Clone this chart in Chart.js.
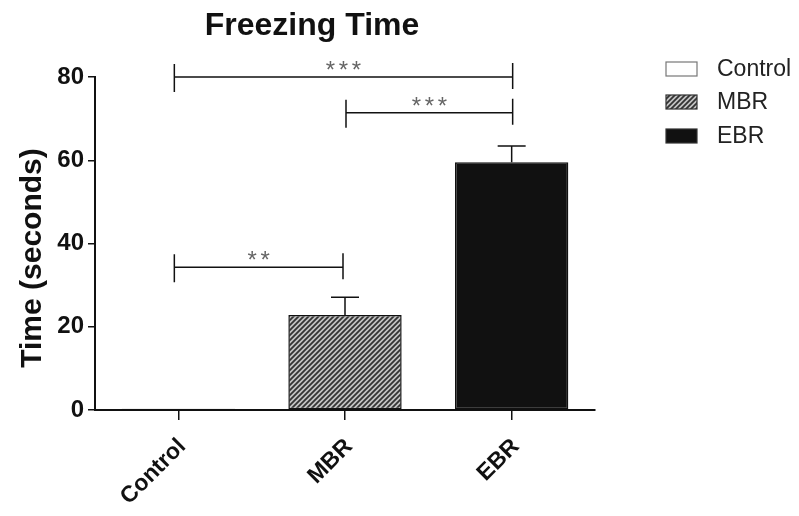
<!DOCTYPE html>
<html>
<head>
<meta charset="utf-8">
<script src="https://cdn.jsdelivr.net/npm/chart.js@4/dist/chart.umd.min.js"></script>
<style>
html,body{margin:0;padding:0;background:#fff;}
canvas{display:block;}
</style>
</head>
<body>
<canvas id="c" width="799" height="516"></canvas>
<script>
// ---- data ----
const categories = ["Control", "MBR", "EBR"];
const meanTime = [0.3, 22.8, 59.5];
const errorUpper = [0, 4.3, 3.9];
const yTicks = [0, 20, 40, 60, 80];
// significance brackets
const bracketFrom = [0, 1, 0];
const bracketTo = [2, 2, 1];
const bracketY = [80, 71.4, 34.3];
const bracketStars = [3, 3, 2];
const chartTitle = "Freezing Time";
const yAxisTitle = "Time (seconds)";

// ---- hatch pattern for MBR ----
function makeHatch() {
  const s = 5;
  const p = document.createElement('canvas');
  p.width = s; p.height = s;
  const g = p.getContext('2d');
  g.fillStyle = '#c4c4c4';
  g.fillRect(0, 0, s, s);
  g.strokeStyle = '#333';
  g.lineWidth = 1.8;
  g.beginPath();
  g.moveTo(-1, s + 1); g.lineTo(s + 1, -1);
  g.moveTo(-1, 1); g.lineTo(1, -1);
  g.moveTo(s - 1, s + 1); g.lineTo(s + 1, s - 1);
  g.stroke();
  return document.getElementById('c').getContext('2d').createPattern(p, 'repeat');
}
const hatch = makeHatch();
const fills = ['#ffffff', hatch, '#111111'];

const FONT = "'Liberation Sans', Arial, sans-serif";

const overlay = {
  id: 'overlay',
  afterDatasetsDraw(chart) {
    const ctx = chart.ctx;
    const x = chart.scales.x, y = chart.scales.y;
    const meta = chart.getDatasetMeta(0);
    ctx.save();
    // error bars
    ctx.strokeStyle = '#111';
    ctx.lineWidth = 1.5;
    meta.data.forEach((bar, i) => {
      if (!errorUpper[i]) return;
      const cx = bar.x;
      const yTop = y.getPixelForValue(meanTime[i] + errorUpper[i]);
      const yBar = y.getPixelForValue(meanTime[i]);
      ctx.beginPath();
      ctx.moveTo(cx, yBar); ctx.lineTo(cx, yTop);
      ctx.moveTo(cx - 14, yTop); ctx.lineTo(cx + 14, yTop);
      ctx.stroke();
    });
    // brackets
    for (let k = 0; k < bracketFrom.length; k++) {
      const x1 = x.getPixelForValue(bracketFrom[k]) + (bracketFrom[k] === 0 ? -4 : 1);
      const x2 = x.getPixelForValue(bracketTo[k]) + (bracketTo[k] === 2 ? 1 : -2);
      const yy = y.getPixelForValue(bracketY[k]);
      ctx.strokeStyle = '#111';
      ctx.lineWidth = 1.5;
      ctx.beginPath();
      ctx.moveTo(x1, yy); ctx.lineTo(x2, yy);
      ctx.moveTo(x1, yy - 13); ctx.lineTo(x1, yy + 15);
      ctx.moveTo(x2, yy - 14); ctx.lineTo(x2, yy + 12);
      ctx.stroke();
      ctx.fillStyle = '#666';
      ctx.font = "24px " + FONT;
      ctx.textAlign = 'center';
      ctx.textBaseline = 'alphabetic';
      const n = bracketStars[k], gap = 13;
      const mid = (x1 + x2) / 2;
      for (let j = 0; j < n; j++) {
        ctx.fillText('*', mid + (j - (n - 1) / 2) * gap, yy + 1);
      }
    }
    // x labels (rotated)
    ctx.fillStyle = '#111';
    ctx.font = "bold 23px " + FONT;
    ctx.textAlign = 'right';
    ctx.textBaseline = 'middle';
    categories.forEach((c, i) => {
      const tx = x.getPixelForValue(i) + 4;
      const ty = chart.chartArea.bottom + 33;
      ctx.save();
      ctx.translate(tx, ty);
      ctx.rotate(-Math.PI / 4);
      ctx.fillText(c, 0, 0);
      ctx.restore();
    });
    // y axis title
    ctx.save();
    ctx.translate(33, 258);
    ctx.rotate(-Math.PI / 2);
    ctx.font = "bold 30px " + FONT;
    ctx.textAlign = 'center';
    ctx.textBaseline = 'middle';
    ctx.fillText(yAxisTitle, 0, 0);
    ctx.restore();
    // title
    ctx.fillStyle = '#111';
    ctx.font = "bold 32px " + FONT;
    ctx.textAlign = 'center';
    ctx.textBaseline = 'middle';
    ctx.fillText(chartTitle, 312, 26);
    // legend
    const legY = [69, 102, 136];
    ctx.font = "23px " + FONT;
    ctx.textAlign = 'left';
    categories.forEach((c, i) => {
      ctx.fillStyle = fills[i];
      ctx.fillRect(666, legY[i] - 7, 31, 14);
      ctx.strokeStyle = i === 0 ? '#777' : '#333';
      ctx.lineWidth = 1.2;
      ctx.strokeRect(666, legY[i] - 7, 31, 14);
      ctx.fillStyle = '#222';
      ctx.fillText(c, 717, legY[i] + 1);
    });
    ctx.restore();
  }
};

new Chart(document.getElementById('c'), {
  type: 'bar',
  data: {
    labels: categories,
    datasets: [{
      data: meanTime,
      backgroundColor: fills,
      borderColor: '#111',
      borderWidth: 1.5,
      borderSkipped: false,
      categoryPercentage: 1.0,
      barPercentage: 0.68
    }]
  },
  options: {
    responsive: false,
    animation: false,
    layout: { padding: { left: 0, top: 77, right: 204, bottom: 0 } },
    plugins: { legend: { display: false }, title: { display: false }, tooltip: { enabled: false } },
    scales: {
      x: {
        afterFit(s) { s.height = 106; },
        grid: { display: true, drawOnChartArea: false, drawTicks: true, tickLength: 10, color: '#111', lineWidth: 1.5, offset: false },
        border: { display: true, color: '#111', width: 2 },
        ticks: { display: false }
      },
      y: {
        min: 0, max: 80,
        afterFit(s) { s.width = 95; },
        afterBuildTicks(s) { s.ticks = yTicks.map(v => ({ value: v })); },
        grid: { display: true, drawOnChartArea: false, drawTicks: true, tickLength: 7, color: '#111', lineWidth: 1.5 },
        border: { display: true, color: '#111', width: 2 },
        ticks: {
          color: '#111', padding: 4,
          font: { family: FONT, size: 24, weight: 'bold' }
        }
      }
    }
  },
  plugins: [overlay]
});
</script>
</body>
</html>
